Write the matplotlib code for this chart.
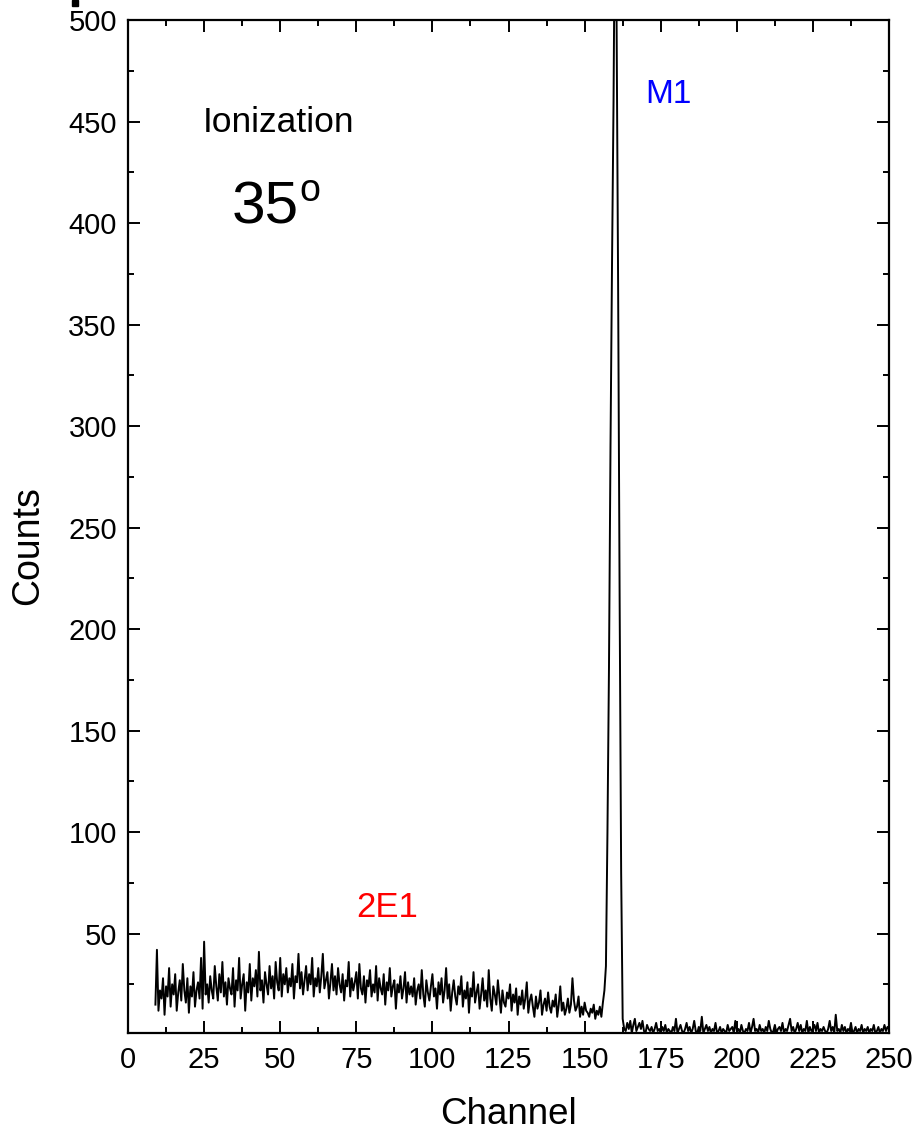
import numpy as np
import matplotlib
matplotlib.use("Agg")
import matplotlib.pyplot as plt
from matplotlib.patches import Rectangle
from matplotlib.ticker import MultipleLocator

plt.rcParams['font.family'] = ['Liberation Sans', 'DejaVu Sans']

# channel step of the spectrum
step = 0.5

# background (2E1 region), channels 9.0 .. 156.0
base_start = 9.0
base_counts = [
    15, 42, 12, 22, 18, 28, 10, 24, 19, 33,
    14, 25, 20, 30, 12, 21, 27, 17, 35, 22,
    16, 28, 11, 24, 19, 31, 14, 22, 26, 18,
    38, 13, 46, 20, 25, 16, 29, 22, 18, 34,
    24, 17, 30, 21, 36, 19, 26, 15, 28, 23,
    20, 33, 14, 27, 22, 38, 18, 25, 30, 12,
    26, 21, 35, 17, 28, 24, 32, 19, 41, 22,
    27, 16, 31, 25, 20, 34, 23, 29, 18, 36,
    26, 22, 38, 19, 30, 25, 33, 21, 28, 24,
    35, 18, 29, 26, 40, 23, 31, 20, 27, 34,
    22, 30, 25, 38, 19, 28, 24, 33, 21, 29,
    40, 23, 27, 31, 18, 26, 35, 22, 29, 20,
    33, 25, 21, 30, 17, 27, 24, 36, 19, 28,
    22, 26, 31, 18, 35, 23, 20, 29, 16, 27,
    24, 32, 19, 25, 21, 34, 17, 28, 23, 20,
    30, 15, 26, 22, 33, 19, 24, 27, 13, 25,
    21, 29, 18, 23, 31, 16, 26, 20, 24, 19,
    28, 15, 22, 25, 18, 32, 20, 14, 27, 21,
    17, 24, 30, 19, 23, 13, 26, 20, 28, 16,
    22, 33, 18, 25, 12, 21, 27, 19, 15, 24,
    20, 29, 14, 22, 18, 26, 11, 23, 19, 31,
    16, 21, 25, 13, 20, 28, 17, 22, 14, 32,
    18, 12, 24, 20, 15, 27, 19, 11, 22, 16,
    14, 21, 18, 25, 12, 20, 16, 23, 10, 19,
    15, 22, 13, 18, 26, 11, 17, 20, 14, 9,
    19, 13, 16, 22, 10, 15, 18, 12, 21, 14,
    11, 17, 14, 20, 9, 15, 24, 12, 16, 10,
    13, 18, 11, 15, 28, 17, 12, 14, 19, 9,
    14, 10, 16, 12, 11, 9, 13, 11, 15, 8,
    12, 10, 14, 9, 16,
]

# M1 peak, channels 156.5 .. 163.0
peak_start = 156.5
peak_counts = [22, 34, 100, 181, 290, 380, 460, 570, 500, 370, 215, 80, 8, 3]

# tail after the peak, channels 163.5 .. 250.0
tail_start = 163.5
tail_counts = [
    2, 6, 3, 7, 1, 5, 8, 2, 4, 6,
    3, 7, 2, 1, 5, 3, 2, 4, 1, 3,
    6, 2, 3, 1, 4, 2, 5, 1, 3, 2,
    1, 4, 2, 8, 1, 3, 5, 2, 1, 3,
    6, 2, 4, 1, 3, 7, 2, 1, 4, 2,
    9, 1, 3, 5, 2, 4, 1, 3, 2, 6,
    1, 2, 4, 1, 3, 2, 1, 5, 2, 3,
    4, 1, 7, 2, 3, 1, 5, 2, 1, 3,
    2, 6, 1, 4, 8, 2, 3, 1, 5, 2,
    3, 1, 4, 2, 7, 3, 1, 2, 5, 1,
    3, 4, 2, 6, 1, 3, 2, 5, 8, 2,
    4, 1, 3, 6, 2, 5, 1, 3, 2, 7,
    1, 4, 2, 3, 5, 2, 6, 1, 3, 2,
    4, 2, 1, 3, 7, 2, 4, 1, 10, 2,
    3, 1, 5, 2, 4, 1, 3, 2, 6, 1,
    2, 4, 1, 3, 2, 5, 1, 3, 2, 4,
    1, 3, 2, 5, 1, 2, 4, 1, 3, 2,
    5, 2, 4, 3,
]

x = np.concatenate([
    base_start + step * np.arange(len(base_counts)),
    peak_start + step * np.arange(len(peak_counts)),
    tail_start + step * np.arange(len(tail_counts)),
])
y = np.concatenate([base_counts, peak_counts, tail_counts])

fig = plt.figure(figsize=(9.17, 11.3), dpi=100)
ax = fig.add_axes([0.1396, 0.0858, 0.9695 - 0.1396, 0.9823 - 0.0858])

ax.plot(x, y, color='black', lw=1.4)

ax.set_xlim(0, 250)
ax.set_ylim(1, 500)
ax.xaxis.set_major_locator(MultipleLocator(25))
ax.xaxis.set_minor_locator(MultipleLocator(12.5))
ax.yaxis.set_major_locator(MultipleLocator(50))
ax.yaxis.set_minor_locator(MultipleLocator(25))
ax.tick_params(which='both', direction='in', top=True, right=True, width=1.4)
ax.tick_params(which='major', length=8.5, labelsize=21)
ax.tick_params(which='minor', length=4.5)
ax.tick_params(axis='x', pad=9)
ax.tick_params(axis='y', pad=8)
for s in ax.spines.values():
    s.set_linewidth(1.6)

ax.set_xlabel('Channel', fontsize=26.5)
ax.set_ylabel('Counts', fontsize=27)
ax.xaxis.set_label_coords(0.5, -0.063)
ax.yaxis.set_label_coords(-0.108, 0.481)

ax.text(24.6, 445, 'Ionization', fontsize=25.5)
ax.text(34.2, 400, '35', fontsize=43.5)
ax.text(56.3, 411, 'o', fontsize=27)
ax.text(169.8, 459, 'M1', fontsize=24, color='#0000ff')
ax.text(74.9, 58, '2E1', fontsize=25, color='#ff0000')

fig.add_artist(Rectangle((72 / 917, 1 - 6 / 1130), 6 / 917, 6 / 1130,
                         transform=fig.transFigure, color='black'))

fig.savefig('out.png', dpi=100)
